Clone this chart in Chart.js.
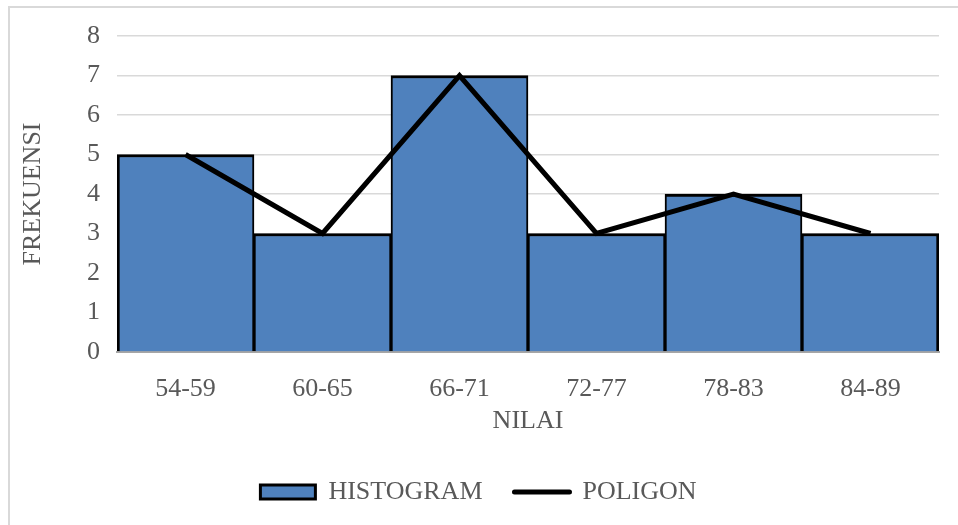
<!DOCTYPE html>
<html lang="id">
<head>
<meta charset="UTF-8">
<title>Histogram dan Poligon</title>
<script src="https://cdn.jsdelivr.net/npm/chart.js"></script>
<style>
    body { margin: 0; background: #fff; overflow: hidden; }
    .wrap { position: relative; width: 958px; height: 525px; }
    .frame { position: absolute; left: 8px; top: 6px; width: 1000px; height: 600px; border-left: 2px solid #d9d9d9; border-top: 2px solid #d9d9d9; }
    canvas { position: absolute; left: 0; top: 0; }
</style>
</head>
<body>
<div class="wrap">
    <div class="frame"></div>
    <canvas id="grafik" width="958" height="525"></canvas>
</div>
<script>
    // data kelas nilai
    const kelas = ['54-59', '60-65', '66-71', '72-77', '78-83', '84-89'];
    const histogram = [5, 3, 7, 3, 4, 3];
    const poligon = [5, 3, 7, 3, 4, 3];
    const yMin = 0, yMax = 8, yStep = 1;

    const teks = '#595959';
    const fontSerif = "'Liberation Serif', 'Times New Roman', serif";
    const n = kelas.length;

    const dados = {
        labels: kelas,
        datasets: [{
            type: 'bar',
            label: 'HISTOGRAM',
            data: histogram,
            backgroundColor: '#4f81bd',
            borderColor: '#000',
            borderWidth: function (c) {
                return { top: 3, bottom: 0, left: c.dataIndex === 0 ? 3 : 2, right: c.dataIndex === n - 1 ? 3 : 2 };
            },
            borderSkipped: 'start',
            categoryPercentage: 1,
            barPercentage: 1,
            order: 1
        }, {
            type: 'line',
            label: 'POLIGON',
            data: poligon,
            borderColor: '#000',
            backgroundColor: '#000',
            borderWidth: 5,
            pointRadius: 0,
            tension: 0,
            order: 0
        }]
    };

    const config = {
        type: 'bar',
        data: dados,
        options: {
            responsive: false,
            animation: false,
            layout: { padding: { left: 18, right: 19, top: 36, bottom: 10 } },
            plugins: {
                tooltip: { enabled: false },
                legend: {
                    position: 'bottom',
                    labels: {
                        color: teks,
                        font: { family: fontSerif, size: 26 },
                        usePointStyle: true,
                        pointStyleWidth: 55,
                        boxHeight: 14,
                        padding: 32,
                        sort: function (a, b) { return a.datasetIndex - b.datasetIndex; },
                        generateLabels: function (chart) {
                            const items = Chart.defaults.plugins.legend.labels.generateLabels(chart);
                            items.forEach(function (it) {
                                if (it.datasetIndex === 0) {
                                    it.pointStyle = 'rect';
                                    it.fillStyle = '#4f81bd';
                                    it.strokeStyle = '#000';
                                    it.lineWidth = 3;
                                } else {
                                    it.pointStyle = 'line';
                                    it.strokeStyle = '#000';
                                    it.lineWidth = 5;
                                    it.lineCap = 'round';
                                }
                            });
                            return items;
                        }
                    }
                }
            },
            scales: {
                x: {
                    grid: { display: false },
                    border: { color: '#a6a6a6', width: 2 },
                    ticks: { color: teks, font: { family: fontSerif, size: 26 }, padding: 14 },
                    title: { display: true, text: 'NILAI', color: teks, font: { family: fontSerif, size: 26 }, padding: { top: 0, bottom: 10 } },
                    afterFit: function (s) { s.height = 95; }
                },
                y: {
                    min: yMin,
                    max: yMax,
                    ticks: { stepSize: yStep, color: teks, font: { family: fontSerif, size: 26 }, padding: 17 },
                    grid: { color: '#d9d9d9', lineWidth: 1.5, drawTicks: false },
                    border: { display: false },
                    title: { display: true, text: 'FREKUENSI', color: teks, font: { family: fontSerif, size: 26 }, padding: 0 },
                    afterFit: function (s) { s.width = 99; }
                }
            }
        }
    };

    new Chart(document.getElementById('grafik'), config);
</script>
</body>
</html>
